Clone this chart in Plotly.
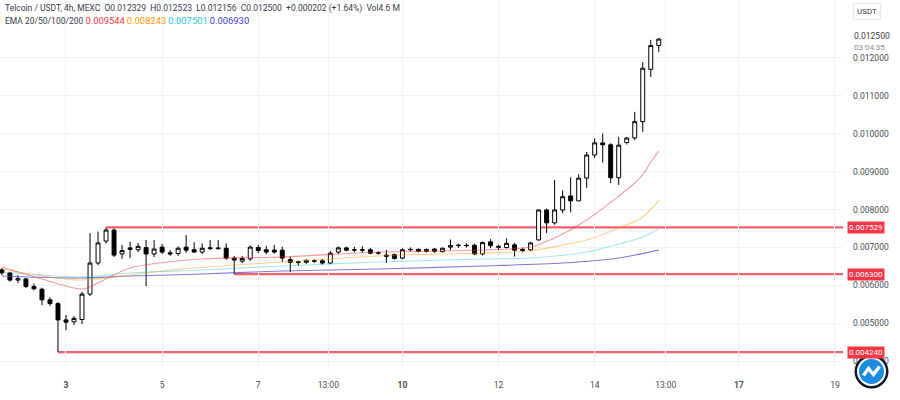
import pandas as pd
import plotly.graph_objects as go

# ---------------- DATA ----------------
start_time = "2024-12-01 16:00"
opens = [0.00641, 0.00633, 0.00614, 0.00617, 0.00597, 0.00590, 0.00562, 0.00552, 0.00509, 0.00504,
         0.00510, 0.00577, 0.00659, 0.00717, 0.00746, 0.00683, 0.00695, 0.00694, 0.00700, 0.00683,
         0.00701, 0.00686, 0.00684, 0.00701, 0.00694, 0.00688, 0.00697, 0.00699, 0.00698, 0.00672,
         0.00664, 0.00670, 0.00700, 0.00694, 0.00693, 0.00693, 0.00668, 0.00662, 0.00661, 0.00665,
         0.00665, 0.00659, 0.00688, 0.00699, 0.00693, 0.00694, 0.00694, 0.00685, 0.00680, 0.00681,
         0.00672, 0.00694, 0.00695, 0.00690, 0.00696, 0.00689, 0.00701, 0.00705, 0.00706, 0.00706,
         0.00683, 0.00715, 0.00703, 0.00700, 0.00707, 0.00692, 0.00694, 0.00720, 0.00799, 0.00765,
         0.00799, 0.00836, 0.00823, 0.00883, 0.00944, 0.00976, 0.00971, 0.00884, 0.00977, 0.00989,
         0.01032, 0.01170, 0.012329]
highs = [0.00646, 0.00636, 0.00627, 0.00620, 0.00605, 0.00594, 0.00569, 0.00556, 0.00522, 0.00519,
         0.00583, 0.00738, 0.00742, 0.007529, 0.00750, 0.00707, 0.00715, 0.00712, 0.00720, 0.00720,
         0.00709, 0.00693, 0.00703, 0.00733, 0.00714, 0.00711, 0.00720, 0.00720, 0.00711, 0.00678,
         0.00678, 0.00705, 0.00707, 0.00704, 0.00707, 0.00702, 0.00676, 0.00665, 0.00669, 0.00669,
         0.00670, 0.00691, 0.00703, 0.00702, 0.00702, 0.00703, 0.00699, 0.00690, 0.00693, 0.00684,
         0.00698, 0.00700, 0.00698, 0.00697, 0.00698, 0.00700, 0.00721, 0.00710, 0.00711, 0.00710,
         0.00716, 0.00722, 0.00707, 0.00724, 0.00712, 0.00700, 0.00715, 0.00800, 0.00803, 0.00878,
         0.00851, 0.00885, 0.00893, 0.00952, 0.00988, 0.01001, 0.00975, 0.00992, 0.00990, 0.01058,
         0.01189, 0.01248, 0.012523]
lows = [0.00627, 0.00610, 0.00606, 0.00593, 0.00587, 0.00548, 0.00546, 0.00424, 0.00482, 0.00495,
        0.00498, 0.00572, 0.00653, 0.00710, 0.00675, 0.00670, 0.00672, 0.00688, 0.00598, 0.00675,
        0.00683, 0.00678, 0.00678, 0.00686, 0.00686, 0.00683, 0.00693, 0.00694, 0.00667, 0.00630,
        0.00659, 0.00665, 0.00685, 0.00682, 0.00684, 0.00662, 0.00635, 0.00652, 0.00657, 0.00659,
        0.00655, 0.00656, 0.00683, 0.00690, 0.00687, 0.00686, 0.00682, 0.00681, 0.00659, 0.00668,
        0.00669, 0.00690, 0.00687, 0.00687, 0.00686, 0.00687, 0.00693, 0.00699, 0.00700, 0.00680,
        0.00679, 0.00698, 0.00694, 0.00697, 0.00676, 0.00687, 0.00690, 0.00718, 0.00738, 0.00760,
        0.00790, 0.00793, 0.00822, 0.00857, 0.00936, 0.00924, 0.00870, 0.00865, 0.00972, 0.00983,
        0.01005, 0.01150, 0.012156]
closes = [0.00633, 0.00614, 0.00618, 0.00597, 0.00591, 0.00562, 0.00552, 0.00509, 0.00503, 0.00513,
          0.00577, 0.00659, 0.00712, 0.00746, 0.00680, 0.00692, 0.00699, 0.00703, 0.00683, 0.00696,
          0.00688, 0.00683, 0.00698, 0.00693, 0.00688, 0.00698, 0.00699, 0.00697, 0.00672, 0.00667,
          0.00671, 0.00701, 0.00692, 0.00688, 0.00688, 0.00672, 0.00661, 0.00661, 0.00666, 0.00664,
          0.00659, 0.00685, 0.00699, 0.00693, 0.00694, 0.00693, 0.00685, 0.00686, 0.00677, 0.00671,
          0.00694, 0.00695, 0.00690, 0.00695, 0.00690, 0.00698, 0.00705, 0.00706, 0.00705, 0.00683,
          0.00713, 0.00705, 0.00701, 0.00711, 0.00693, 0.00695, 0.00712, 0.00799, 0.00765, 0.00799,
          0.00834, 0.00823, 0.00883, 0.00944, 0.00976, 0.00971, 0.00884, 0.00970, 0.00989, 0.01032,
          0.01173, 0.01233, 0.012500]

# EMA readings (candle index -> value)
ema20_idx = [0, 5, 10, 12, 16, 25, 35, 47, 60, 66, 69, 73, 77, 79, 80, 81, 82]
ema20_val = [0.006485, 0.006169, 0.005905, 0.006063, 0.006459, 0.006697, 0.006749, 0.006881, 0.006934,
             0.007013, 0.007251, 0.007726, 0.008359, 0.008702, 0.008920, 0.009250, 0.009544]
ema50_idx = [0, 5, 10, 16, 21, 35, 47, 60, 66, 70, 73, 77, 80, 82]
ema50_val = [0.006433, 0.006248, 0.006142, 0.006274, 0.006406, 0.006617, 0.006776, 0.006855, 0.006908,
             0.007066, 0.007198, 0.007514, 0.007805, 0.008243]
ema100_idx = [0, 5, 10, 16, 25, 35, 47, 60, 66, 73, 77, 80, 82]
ema100_val = [0.006354, 0.006274, 0.006222, 0.006327, 0.006406, 0.006512, 0.006617, 0.006697, 0.006723,
              0.006881, 0.007092, 0.007277, 0.007501]
ema200_idx = [0, 10, 16, 25, 35, 47, 60, 70, 77, 82]
ema200_val = [0.006248, 0.006195, 0.006248, 0.006301, 0.006380, 0.006433, 0.006512, 0.006591, 0.006723,
              0.006930]

level_prices = [0.007529, 0.006300, 0.004240]
level_start_idx = [13, 29, 7]

x_tick_times = ["2024-12-03 00:00", "2024-12-05 00:00", "2024-12-07 00:00", "2024-12-08 11:00",
                "2024-12-10 00:00", "2024-12-12 00:00", "2024-12-14 00:00", "2024-12-15 11:30",
                "2024-12-17 00:00", "2024-12-19 00:00"]
x_tick_text = ["<b>3</b>", "5", "7", "13:00", "<b>10</b>", "12", "14", "13:00", "<b>17</b>", "19"]
y_tick_vals = [0.004, 0.005, 0.006, 0.007, 0.008, 0.009, 0.010, 0.011, 0.012]
y_tick_text = ["0.004000", "0.005000", "0.006000", "0.007000", "0.008000", "0.009000",
               "0.010000", "0.011000", "0.012000"]

header_line1 = ("Telcoin / USDT, 4h, MEXC  O0.012329  H0.012523  L0.012156  C0.012500  "
                "+0.000202 (+1.64%)  Vol4.6 M")
ema_label = "EMA 20/50/100/200"
ema_last = ["0.009544", "0.008243", "0.007501", "0.006930"]
last_price_text = "0.012500"
countdown_text = "03:04:35"

# ---------------- FIGURE ----------------
times = pd.date_range(start_time, periods=len(opens), freq="4h")

FONT = "Roboto, 'Liberation Sans', sans-serif"
ema_colors = ["rgba(242,54,69,0.5)", "rgba(255,152,0,0.45)", "rgba(0,188,212,0.35)", "rgba(70,70,200,0.7)"]
ema_text_colors = ["#f23645", "#ff9800", "#26c6da", "#3d3dc8"]
level_color = "rgba(242,54,69,0.8)"

fig = go.Figure()

for idx, vals, col in [(ema200_idx, ema200_val, ema_colors[3]),
                       (ema100_idx, ema100_val, ema_colors[2]),
                       (ema50_idx, ema50_val, ema_colors[1]),
                       (ema20_idx, ema20_val, ema_colors[0])]:
    fig.add_trace(go.Scatter(x=[times[i] for i in idx], y=vals, mode="lines",
                             line=dict(color=col, width=1.1, shape="spline", smoothing=0.8),
                             hoverinfo="skip", showlegend=False))

x_right = pd.Timestamp("2024-12-19 04:00")
x_left = pd.Timestamp("2024-12-01 15:03")

for p, si in zip(level_prices, level_start_idx):
    fig.add_shape(type="line", xref="x", yref="y", x0=times[si], x1=x_right, y0=p, y1=p,
                  line=dict(color=level_color, width=2.2), layer="below")

fig.add_trace(go.Candlestick(
    x=times, open=opens, high=highs, low=lows, close=closes,
    increasing=dict(line=dict(color="#000000", width=1), fillcolor="#ffffff"),
    decreasing=dict(line=dict(color="#000000", width=1), fillcolor="#000000"),
    whiskerwidth=0, showlegend=False))

annotations = []
# header
annotations.append(dict(xref="paper", yref="paper", x=0.004, y=1 - 8 / 370, xanchor="left",
                        yanchor="middle", text=header_line1, showarrow=False,
                        font=dict(family=FONT, size=8.5, color="#3a3e48")))
ema_html = ema_label + " " + " ".join(
    f"<span style='color:{c};font-size:9.4px'>{v}</span>" for v, c in zip(ema_last, ema_text_colors))
annotations.append(dict(xref="paper", yref="paper", x=0.004, y=1 - 21 / 370, xanchor="left",
                        yanchor="middle", text=ema_html, showarrow=False,
                        font=dict(family=FONT, size=8.5, color="#3a3e48")))
# level labels
for p in level_prices:
    annotations.append(dict(xref="paper", yref="y", x=1.0045, y=p, xanchor="left", yanchor="middle",
                            text=f"{p:.6f}", showarrow=False, bgcolor="#f23645", borderpad=1,
                            font=dict(family=FONT, size=8, color="#ffffff")))
# last price + countdown
annotations.append(dict(xref="paper", yref="y", x=1.011, y=0.01257, xanchor="left", yanchor="middle",
                        text=last_price_text, showarrow=False,
                        font=dict(family=FONT, size=8.5, color="#3a3e48")))
annotations.append(dict(xref="paper", yref="y", x=1.011, y=0.01229, xanchor="left", yanchor="middle",
                        text=countdown_text, showarrow=False,
                        font=dict(family=FONT, size=8, color="#8a8e98")))
# currency box
annotations.append(dict(xref="paper", yref="paper", x=1.012, y=1 - 11 / 370, xanchor="left",
                        yanchor="middle", text="USDT", showarrow=False, bordercolor="#e6e8ee",
                        borderwidth=1, borderpad=3, bgcolor="#ffffff",
                        font=dict(family=FONT, size=8, color="#3a3e48")))

# logo (decorative watermark) at bottom-right
PW, PH = 843.0, 370.0
cx, cy = 871.5, 371.5


def px2paper(dx, dy):
    return (cx + dx) / PW, (PH - (cy + dy)) / PH


shapes = []
for r, col in [(17, "#0e1a2b"), (14.5, "#ffffff"), (12.5, "#1b8be0")]:
    x0, y0 = px2paper(-r, r)
    x1, y1 = px2paper(r, -r)
    shapes.append(dict(type="circle", xref="paper", yref="paper", x0=x0, y0=y0, x1=x1, y1=y1,
                       fillcolor=col, line=dict(width=0), layer="above"))
pts = [(-8, 4), (-3, -3), (2, 3), (8, -5)]
path = ""
for k, (dx, dy) in enumerate(pts):
    px, py = px2paper(dx, dy)
    path += ("M" if k == 0 else "L") + f"{px},{py}"
shapes.append(dict(type="path", xref="paper", yref="paper", path=path,
                   line=dict(color="#ffffff", width=3.5), layer="above"))
for s in shapes:
    fig.add_shape(**s)

fig.update_layout(
    width=900, height=400,
    margin=dict(l=0, r=57, t=0, b=30),
    paper_bgcolor="#ffffff", plot_bgcolor="#ffffff",
    annotations=annotations,
    showlegend=False,
    hovermode=False,
    font=dict(family=FONT, size=9, color="#3a3e48"),
)
fig.update_xaxes(
    type="date", range=[x_left, x_right], rangeslider=dict(visible=False),
    tickmode="array", tickvals=x_tick_times, ticktext=x_tick_text,
    showgrid=True, gridcolor="#f2f3f6", gridwidth=1, zeroline=False,
    showline=False, ticks="", ticklabelstandoff=8,
    tickfont=dict(family=FONT, size=8.5, color="#4a4e58"),
)
fig.update_yaxes(
    range=[0.003768, 0.013530], side="right",
    tickmode="array", tickvals=y_tick_vals, ticktext=y_tick_text,
    showgrid=True, gridcolor="#f2f3f6", gridwidth=1, zeroline=False,
    showline=False, ticks="", ticklabelstandoff=9,
    tickfont=dict(family=FONT, size=8.5, color="#4a4e58"),
)

fig.write_html("out.html", config={"displayModeBar": False},
               post_script="document.body.style.margin='0';document.body.style.padding='0';"
                           "document.body.style.overflow='hidden';")
